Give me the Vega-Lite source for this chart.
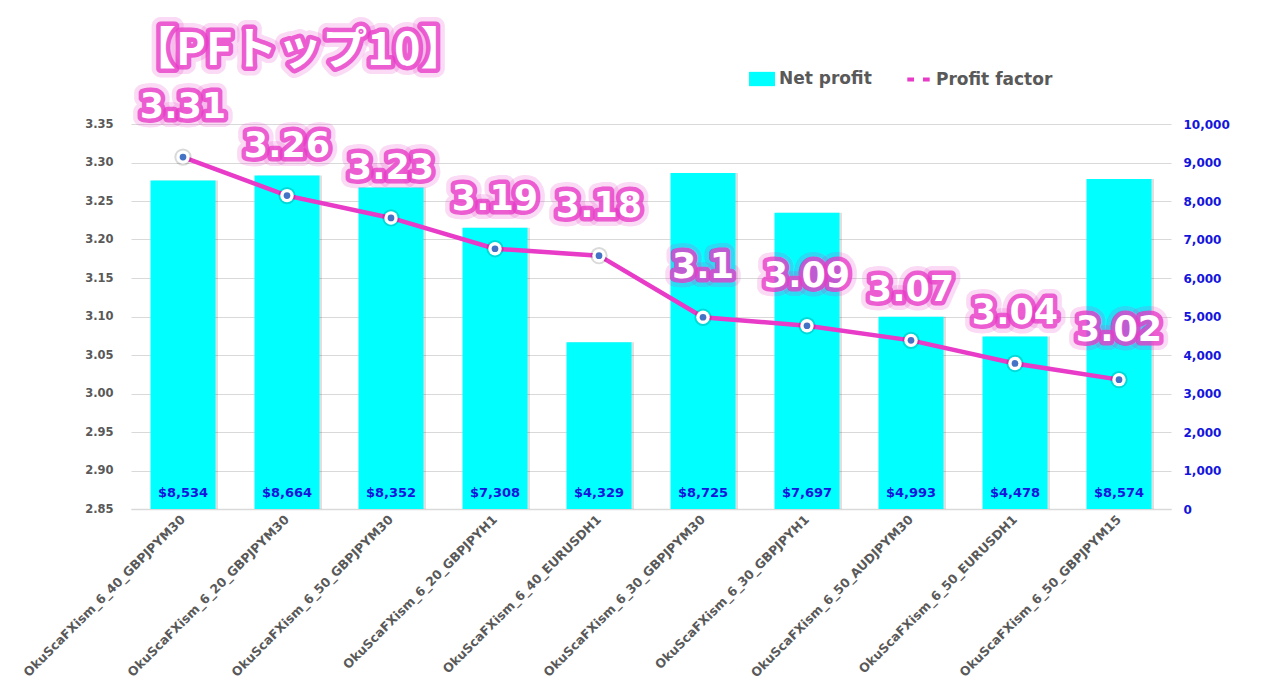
{
  "$schema": "https://vega.github.io/schema/vega-lite/v6.json",
  "width": 1040,
  "height": 385,
  "autosize": "none",
  "padding": {"left": 131, "top": 124, "right": 111, "bottom": 182},
  "background": "white",
  "datasets": {
    "main": [
      {"strategy": "OkuScaFXism_6_40_GBPJPYM30", "net": 8534, "pf": 3.307},
      {"strategy": "OkuScaFXism_6_20_GBPJPYM30", "net": 8664, "pf": 3.257},
      {"strategy": "OkuScaFXism_6_50_GBPJPYM30", "net": 8352, "pf": 3.228},
      {"strategy": "OkuScaFXism_6_20_GBPJPYH1", "net": 7308, "pf": 3.188},
      {"strategy": "OkuScaFXism_6_40_EURUSDH1", "net": 4329, "pf": 3.179},
      {"strategy": "OkuScaFXism_6_30_GBPJPYM30", "net": 8725, "pf": 3.099},
      {"strategy": "OkuScaFXism_6_30_GBPJPYH1", "net": 7697, "pf": 3.088},
      {"strategy": "OkuScaFXism_6_50_AUDJPYM30", "net": 4993, "pf": 3.069},
      {"strategy": "OkuScaFXism_6_50_EURUSDH1", "net": 4478, "pf": 3.039},
      {"strategy": "OkuScaFXism_6_50_GBPJPYM15", "net": 8574, "pf": 3.018}
    ],
    "titleData": [{"t": "【PFトップ10】"}]
  },
  "data": {"name": "main"},
  "encoding": {
    "x": {
      "field": "strategy",
      "type": "nominal",
      "sort": null,
      "title": null,
      "scale": {"paddingInner": 0.375, "paddingOuter": 0.1875},
      "axis": {
        "labelAngle": -45,
        "labelAlign": "right",
        "labelBaseline": "middle",
        "labelPadding": 8,
        "labelFontSize": 12.5,
        "labelColor": "#595959",
        "labelFontWeight": "bold",
        "labelLimit": 400,
        "labelOverlap": false,
        "domain": true,
        "domainColor": "#D9D9D9",
        "domainWidth": 1.5,
        "ticks": false,
        "grid": false
      }
    }
  },
  "layer": [
    {
      "layer": [
        {
          "mark": {"type": "bar", "fill": "#000000", "opacity": 0.12, "xOffset": 2.5},
          "encoding": {
            "y": {
              "field": "net",
              "type": "quantitative",
              "title": null,
              "scale": {"domain": [0, 10000]},
              "axis": {
                "orient": "right",
                "values": [0, 1000, 2000, 3000, 4000, 5000, 6000, 7000, 8000, 9000, 10000],
                "tickCount": 20,
                "format": ",.0f",
                "labelOverlap": false,
                "labelColor": "#1414DC",
                "labelFontSize": 12,
                "labelFontWeight": "bold",
                "labelPadding": 12,
                "grid": false,
                "domain": false,
                "ticks": false
              }
            }
          }
        },
        {
          "mark": {"type": "bar", "fill": "#00FFFF"},
          "encoding": {
            "y": {"field": "net", "type": "quantitative"},
            "fill": {
              "datum": "Net profit",
              "type": "nominal",
              "scale": {"domain": ["Net profit"], "range": ["#00FFFF"]},
              "legend": {
                "title": null,
                "orient": "none",
                "legendX": 618,
                "legendY": -58,
                "symbolType": "M-1,-0.55H1V0.55H-1Z",
                "symbolSize": 676,
                "symbolStrokeWidth": 0,
                "labelFontSize": 17,
                "labelFontWeight": "bold",
                "labelColor": "#595959",
                "labelOffset": 4
              }
            }
          }
        },
        {
          "mark": {"type": "text", "baseline": "bottom", "dy": -9, "font": "DejaVu Sans", "fontWeight": "bold", "fontSize": 13, "color": "#1414DC"},
          "encoding": {
            "y": {"datum": 0, "type": "quantitative"},
            "text": {"field": "net", "type": "quantitative", "format": "$,.0f"}
          }
        }
      ]
    },
    {
      "layer": [
        {
          "mark": {"type": "line", "strokeWidth": 4.5, "color": "#E83BC8"},
          "encoding": {
            "y": {
              "field": "pf",
              "type": "quantitative",
              "title": null,
              "scale": {"domain": [2.85, 3.35], "zero": false, "nice": false},
              "axis": {
                "orient": "left",
                "values": [2.85, 2.9, 2.95, 3.0, 3.05, 3.1, 3.15, 3.2, 3.25, 3.3, 3.35],
                "tickCount": 20,
                "format": ".2f",
                "labelOverlap": false,
                "labelColor": "#595959",
                "labelFontSize": 11.5,
                "labelFontWeight": "bold",
                "labelPadding": 18,
                "grid": true,
                "gridColor": "#D9D9D9",
                "gridWidth": 1,
                "domain": false,
                "ticks": false
              }
            },
            "stroke": {
              "datum": "Profit factor",
              "type": "nominal",
              "scale": {"domain": ["Profit factor"], "range": ["#E83BC8"]},
              "legend": {
                "title": null,
                "orient": "none",
                "legendX": 774,
                "legendY": -58,
                "symbolType": "M-1,0H-0.4M0.4,0H1",
                "symbolSize": 500,
                "symbolStrokeWidth": 4,
                "labelFontSize": 17,
                "labelFontWeight": "bold",
                "labelColor": "#595959",
                "labelOffset": 4
              }
            }
          }
        },
        {
          "mark": {"type": "point", "shape": "circle", "filled": true, "fill": "#000000", "size": 300, "opacity": 0.15},
          "encoding": {"y": {"field": "pf", "type": "quantitative"}}
        },
        {
          "mark": {"type": "point", "shape": "circle", "filled": true, "fill": "white", "size": 180, "opacity": 1},
          "encoding": {"y": {"field": "pf", "type": "quantitative"}}
        },
        {
          "mark": {"type": "point", "shape": "circle", "filled": true, "fill": "#4472C4", "size": 45, "opacity": 1},
          "encoding": {"y": {"field": "pf", "type": "quantitative"}}
        },
        {
          "mark": {"type": "text", "dy": -50, "font": "DejaVu Sans", "fontWeight": "bold", "fontSize": 35, "fill": "#E83BC8", "stroke": "#E83BC8", "strokeWidth": 18, "strokeOpacity": 0.2, "strokeJoin": "round", "opacity": 1},
          "encoding": {
            "y": {"field": "pf", "type": "quantitative"},
            "text": {"field": "pf", "type": "quantitative", "format": ".2~f"}
          }
        },
        {
          "mark": {"type": "text", "dy": -50, "font": "DejaVu Sans", "fontWeight": "bold", "fontSize": 35, "fill": "#E83BC8", "stroke": "#E83BC8", "strokeWidth": 9, "strokeOpacity": 0.8, "strokeJoin": "round"},
          "encoding": {
            "y": {"field": "pf", "type": "quantitative"},
            "text": {"field": "pf", "type": "quantitative", "format": ".2~f"}
          }
        },
        {
          "mark": {"type": "text", "dy": -50, "font": "DejaVu Sans", "fontWeight": "bold", "fontSize": 35, "fill": "white"},
          "encoding": {
            "y": {"field": "pf", "type": "quantitative"},
            "text": {"field": "pf", "type": "quantitative", "format": ".2~f"}
          }
        },
        {
          "data": {"name": "titleData"},
          "mark": {"type": "text", "align": "left", "baseline": "middle", "dx": -52, "font": "Noto Sans CJK JP", "fontWeight": "bold", "fontSize": 45, "fill": "#E83BC8", "stroke": "#E83BC8", "strokeWidth": 18, "strokeOpacity": 0.2, "strokeJoin": "round"},
          "encoding": {
            "x": {"datum": "OkuScaFXism_6_40_GBPJPYM30"},
            "y": {"datum": 3.445, "type": "quantitative"},
            "text": {"field": "t", "type": "nominal"}
          }
        },
        {
          "data": {"name": "titleData"},
          "mark": {"type": "text", "align": "left", "baseline": "middle", "dx": -52, "font": "Noto Sans CJK JP", "fontWeight": "bold", "fontSize": 45, "fill": "#E83BC8", "stroke": "#E83BC8", "strokeWidth": 9, "strokeOpacity": 0.8, "strokeJoin": "round"},
          "encoding": {
            "x": {"datum": "OkuScaFXism_6_40_GBPJPYM30"},
            "y": {"datum": 3.445, "type": "quantitative"},
            "text": {"field": "t", "type": "nominal"}
          }
        },
        {
          "data": {"name": "titleData"},
          "mark": {"type": "text", "align": "left", "baseline": "middle", "dx": -52, "font": "Noto Sans CJK JP", "fontWeight": "bold", "fontSize": 45, "fill": "white"},
          "encoding": {
            "x": {"datum": "OkuScaFXism_6_40_GBPJPYM30"},
            "y": {"datum": 3.445, "type": "quantitative"},
            "text": {"field": "t", "type": "nominal"}
          }
        }
      ]
    }
  ],
  "resolve": {"scale": {"y": "independent"}},
  "config": {
    "view": {"stroke": null},
    "font": "DejaVu Sans",
    "axis": {"labelFont": "DejaVu Sans", "labelOverlap": false},
    "legend": {"labelFont": "DejaVu Sans", "direction": "horizontal"}
  }
}
